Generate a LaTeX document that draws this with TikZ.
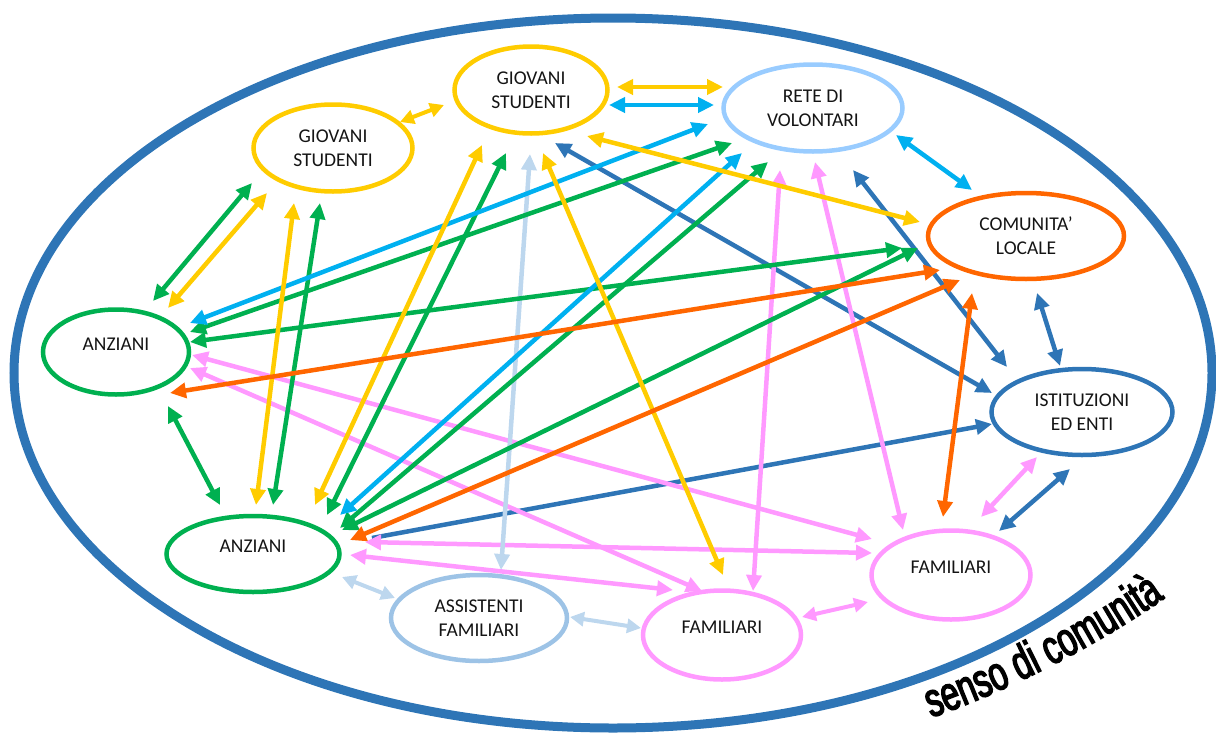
\documentclass[tikz,border=0pt]{standalone}
\usepackage{fontspec}
\setmainfont{Carlito}
\newfontfamily\sensofont[FakeStretch=0.68, FakeBold=3]{Liberation Sans}
\usetikzlibrary{shapes.geometric,arrows.meta,decorations.text}
\definecolor{cyel}{HTML}{FFCC00}
\definecolor{ccyan}{HTML}{00B0F0}
\definecolor{cgreen}{HTML}{00B050}
\definecolor{corange}{HTML}{FF6600}
\definecolor{cblue}{HTML}{2E75B6}
\definecolor{cpink}{HTML}{FF99FF}
\definecolor{clb}{HTML}{BDD7EE}
\definecolor{cass}{HTML}{9DC3E6}
\definecolor{crete}{HTML}{99CCFF}
\tikzset{
  ent/.style={ellipse, draw, line width=4.5pt, inner sep=0pt, align=center,
    font=\fontsize{19.5}{24}\selectfont, text=black!92},
  raised/.style={text height=13pt, text depth=17pt},
  arr/.style={line width=4.5pt, {Triangle[length=16pt,width=15pt]}-{Triangle[length=16pt,width=15pt]}},
  arrs/.style={line width=4pt, {Triangle[length=14pt,width=14pt]}-{Triangle[length=14pt,width=14pt]}},
  arrone/.style={line width=4.5pt, -{Triangle[length=16pt,width=15pt]}},
}
\begin{document}
\begin{tikzpicture}[x=1pt,y=-1pt]
\useasboundingbox (0,0) rectangle (1216,734);
\draw[cblue, line width=9pt] (613,373) ellipse [x radius=599pt, y radius=355pt];

% nodes
\node[ent, draw=cyel, minimum width=153pt, minimum height=87pt] (gsa) at (531,90) {GIOVANI\\STUDENTI};
\node[ent, draw=cyel, minimum width=159pt, minimum height=87pt] (gsb) at (333,148) {GIOVANI\\STUDENTI};
\node[ent, draw=crete, minimum width=179pt, minimum height=87pt] (rete) at (813,108) {RETE DI\\VOLONTARI};
\node[ent, draw=corange, minimum width=196pt, minimum height=86pt] (com) at (1026,236) {COMUNITA’\\LOCALE};
\node[ent, draw=cblue, minimum width=181pt, minimum height=86pt] (ist) at (1082,412) {ISTITUZIONI\\ED ENTI};
\node[ent, raised, draw=cgreen, minimum width=146pt, minimum height=85pt] (anza) at (116,352) {ANZIANI};
\node[ent, raised, draw=cgreen, minimum width=173pt, minimum height=76pt] (anzb) at (253,554) {ANZIANI};
\node[ent, draw=cass, minimum width=176pt, minimum height=86pt] (ass) at (479,618) {ASSISTENTI\\FAMILIARI};
\node[ent, raised, draw=cpink, minimum width=158pt, minimum height=89pt] (fama) at (722,635) {FAMILIARI};
\node[ent, raised, draw=cpink, minimum width=159pt, minimum height=89pt] (famb) at (951,575) {FAMILIARI};

% blue
\draw[arr, cblue] ([shift={(24,53)}]gsa.center) -- ([shift={(-90,-19)}]ist.center);
\draw[arr, cblue] ([shift={(40,62)}]rete.center) -- ([shift={(-75,-45)}]ist.center);
\draw[arr, cblue] ([shift={(11,57)}]com.center) -- ([shift={(-22,-46)}]ist.center);
\draw[arrone, cblue] ([shift={(119,-16)}]anzb.center) -- ([shift={(-90,12)}]ist.center);
\draw[arr, cblue] ([shift={(-12,57)}]ist.center) -- ([shift={(48,-44)}]famb.center);

% pink
\draw[arr, cpink] ([shift={(-33,62)}]rete.center) -- ([shift={(31,-44)}]fama.center);
\draw[arr, cpink] ([shift={(2,54)}]rete.center) -- ([shift={(-48,-45)}]famb.center);
\draw[arr, cpink] ([shift={(-45,45)}]ist.center) -- ([shift={(30,-58)}]famb.center);
\draw[arr, cpink] ([shift={(76,3)}]anza.center) -- ([shift={(-79,-36)}]famb.center);
\draw[arr, cpink] ([shift={(74,16)}]anza.center) -- ([shift={(-20,-44)}]fama.center);
\draw[arr, cpink] ([shift={(112,-12)}]anzb.center) -- ([shift={(-79,-22)}]famb.center);
\draw[arr, cpink] ([shift={(97,1)}]anzb.center) -- ([shift={(-49,-45)}]fama.center);
\draw[arrs, cpink] ([shift={(80,-18)}]fama.center) -- ([shift={(-83,27)}]famb.center);

% light blue
\draw[arr, clb] ([shift={(-1,64)}]gsa.center) -- ([shift={(22,-48)}]ass.center);
\draw[arrs, clb] ([shift={(89,23)}]anzb.center) -- ([shift={(-84,-20)}]ass.center);
\draw[arrs, clb] ([shift={(91,-1)}]ass.center) -- ([shift={(-81,-7)}]fama.center);

% green
\draw[arr, cgreen] ([shift={(-81,35)}]gsb.center) -- ([shift={(37,-51)}]anza.center);
\draw[arr, cgreen] ([shift={(-13,55)}]gsb.center) -- ([shift={(20,-49)}]anzb.center);
\draw[arr, cgreen] ([shift={(-25,63)}]gsa.center) -- ([shift={(74,-39)}]anzb.center);
\draw[arr, cgreen] ([shift={(-81,35)}]rete.center) -- ([shift={(74,-20)}]anza.center);
\draw[arr, cgreen] ([shift={(-45,54)}]rete.center) -- ([shift={(87,-26)}]anzb.center);
\draw[arr, cgreen] ([shift={(-124,12)}]com.center) -- ([shift={(74,-10)}]anza.center);
\draw[arr, cgreen] ([shift={(-108,12)}]com.center) -- ([shift={(89,-24)}]anzb.center);
\draw[arr, cgreen] ([shift={(52,54)}]anza.center) -- ([shift={(-33,-49)}]anzb.center);

% cyan
\draw[arr, ccyan] ([shift={(78,15)}]gsa.center) -- ([shift={(-99,-3)}]rete.center);
\draw[arr, ccyan] ([shift={(-105,16)}]rete.center) -- ([shift={(74,-29)}]anza.center);
\draw[arr, ccyan] ([shift={(-71,45)}]rete.center) -- ([shift={(87,-39)}]anzb.center);
\draw[arr, ccyan] ([shift={(83,27)}]rete.center) -- ([shift={(-54,-46)}]com.center);

% yellow
\draw[arr, cyel] ([shift={(86,-3)}]gsa.center) -- ([shift={(-90,-21)}]rete.center);
\draw[arrs, cyel] ([shift={(67,-26)}]gsb.center) -- ([shift={(-87,15)}]gsa.center);
\draw[arr, cyel] ([shift={(56,46)}]gsa.center) -- ([shift={(-106,-14)}]com.center);
\draw[arr, cyel] ([shift={(-66,45)}]gsb.center) -- ([shift={(52,-44)}]anza.center);
\draw[arr, cyel] ([shift={(-39,55)}]gsb.center) -- ([shift={(3,-49)}]anzb.center);
\draw[arr, cyel] ([shift={(-49,55)}]gsa.center) -- ([shift={(62,-49)}]anzb.center);
\draw[arr, cyel] ([shift={(12,63)}]gsa.center) -- ([shift={(1,-60)}]fama.center);

% orange
\draw[arr, corange] ([shift={(-86,34)}]com.center) -- ([shift={(54,41)}]anza.center);
\draw[arr, corange] ([shift={(-66,44)}]com.center) -- ([shift={(97,-14)}]anzb.center);
\draw[arr, corange] ([shift={(-54,57)}]com.center) -- ([shift={(-8,-58)}]famb.center);

% caption
\path[decorate, decoration={text along path, text align=center,
  text={|\sensofont\fontsize{48}{48}\selectfont|senso di comunità}}]
  (918,722) .. controls (1000,696) and (1105,642) .. (1176,590);
\end{tikzpicture}
\end{document}
